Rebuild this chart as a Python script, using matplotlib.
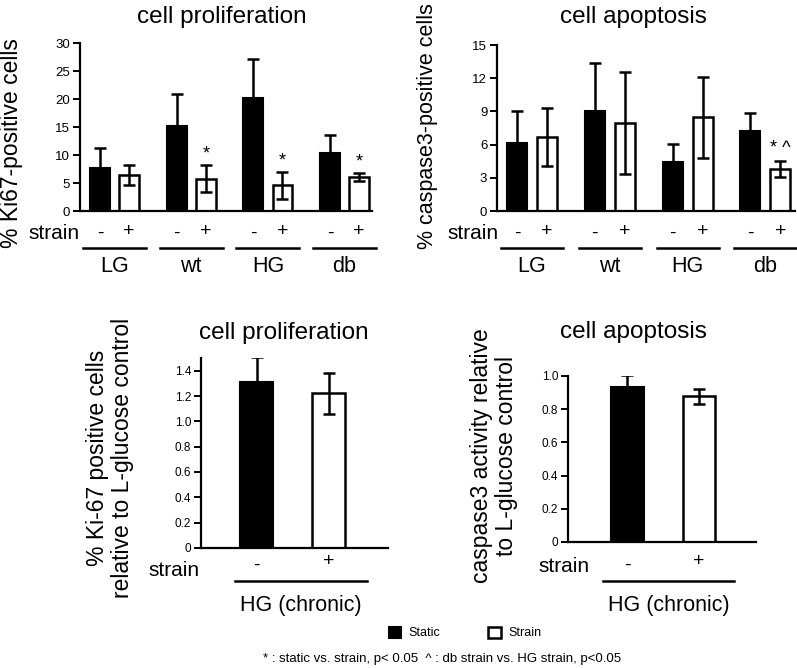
import numpy as np
import matplotlib
matplotlib.use("Agg")
from matplotlib import pyplot as plt
from matplotlib.transforms import blended_transform_factory

plt.rcParams['font.family'] = ['Liberation Sans', 'DejaVu Sans']

# data
groups = ["LG", "wt", "HG", "db"]
signs = ["-", "+"]

prolif_static = [7.7, 15.1, 20.1, 10.3]
prolif_static_err = [3.6, 5.8, 7.1, 3.3]
prolif_strain = [6.4, 5.8, 4.6, 6.1]
prolif_strain_err = [1.8, 2.4, 2.4, 0.7]
prolif_marks = ["", "*", "*", "*"]

apopt_static = [6.1, 9.05, 4.4, 7.2]
apopt_static_err = [2.9, 4.35, 1.65, 1.7]
apopt_strain = [6.7, 7.95, 8.45, 3.8]
apopt_strain_err = [2.6, 4.65, 3.7, 0.7]
apopt_marks = ["", "", "", "* ^"]

chronic_prolif = [1.31, 1.22]
chronic_prolif_err = [0.2, 0.165]
chronic_apopt = [0.935, 0.877]
chronic_apopt_err = [0.07, 0.046]

W, H = 797, 668
fig = plt.figure(figsize=(W / 100, H / 100), dpi=100)


def px_rect(x0, y0, x1, y1):
    return [x0 / W, 1 - y1 / H, (x1 - x0) / W, (y1 - y0) / H]


def fy(y):
    return 1 - y / H


def style_axes(ax, tsize):
    for s in ["top", "right"]:
        ax.spines[s].set_visible(False)
    ax.spines["left"].set_linewidth(1.6)
    ax.spines["bottom"].set_linewidth(1.6)
    ax.tick_params(axis="x", bottom=False, labelbottom=False)
    ax.tick_params(axis="y", direction="out", length=5, width=1.4,
                   labelsize=tsize, pad=2)


ekw = dict(elinewidth=1.8, capsize=4, capthick=1.8, ecolor="black")


def group_panel(ax, static, s_err, strain, t_err, marks, width, off, ylim, yticks,
                line_w, star_pad):
    x = np.arange(len(groups))
    b1 = ax.bar(x - off, static, width, color="black", edgecolor="black", linewidth=1.5,
                yerr=[np.zeros(len(static)), s_err], error_kw=ekw)
    b2 = ax.bar(x + off, strain, width, color="white", edgecolor="black", linewidth=1.8,
                yerr=t_err, error_kw=ekw)
    ax.set_ylim(*ylim)
    ax.set_yticks(yticks)
    style_axes(ax, 9.5)
    for i, m in enumerate(marks):
        if m:
            ax.text(x[i] + off, strain[i] + t_err[i] + star_pad, m, ha="center",
                    va="center", fontsize=13)
    tr = blended_transform_factory(ax.transData, fig.transFigure)
    for i, g in enumerate(groups):
        ax.text(x[i] - off, fy(233), signs[0], transform=tr, ha="center", va="center",
                fontsize=14)
        ax.text(x[i] + off, fy(231), signs[1], transform=tr, ha="center", va="center",
                fontsize=14)
        ax.plot([x[i] - line_w / 2, x[i] + line_w / 2], [fy(248), fy(248)], transform=tr,
                color="black", lw=1.8, clip_on=False)
        ax.text(x[i], fy(267), g, transform=tr, ha="center", va="center", fontsize=15.5)
    return b1, b2


def chronic_panel(ax, vals, errs, width, ylim, yticks, spine_top, line_x, sign_y):
    x = np.arange(2)
    ax.bar(x[0], vals[0], width, color="black", edgecolor="black", linewidth=1.5,
           yerr=[[0], [errs[0]]], error_kw=ekw)
    ax.bar(x[1], vals[1], width, color="white", edgecolor="black", linewidth=1.8,
           yerr=[[errs[1]], [errs[1]]], error_kw=ekw)
    ax.set_ylim(*ylim)
    ax.set_yticks(yticks)
    ax.set_yticklabels(["0"] + ["%.1f" % t for t in yticks[1:]])
    style_axes(ax, 8.5)
    ax.spines["left"].set_bounds(0, spine_top)
    tr = blended_transform_factory(ax.transData, fig.transFigure)
    ax.text(x[0], fy(sign_y[0]), signs[0], transform=tr, ha="center", va="center",
            fontsize=14)
    ax.text(x[1], fy(sign_y[1]), signs[1], transform=tr, ha="center", va="center",
            fontsize=14)
    ax.plot(line_x, [fy(581), fy(581)], transform=tr, color="black", lw=1.8,
            clip_on=False)
    ax.text(np.mean(line_x), fy(605), "HG (chronic)", transform=tr, ha="center",
            va="center", fontsize=15.5)


# panel A
axA = fig.add_axes(px_rect(80, 43, 372, 211))
bs, bt = group_panel(axA, prolif_static, prolif_static_err, prolif_strain, prolif_strain_err,
                     prolif_marks, 0.26, 0.19, (0, 30), range(0, 31, 5), 0.82, 2.0)
axA.set_xlim(-0.45, 3.357)
fig.text(222 / W, fy(17), "cell proliferation", ha="center", va="center", fontsize=17.5)
fig.text(12 / W, fy(248), "% Ki67-positive cells", rotation=90, ha="center",
         va="bottom", fontsize=16.5)
fig.text(80 / W, fy(233), "strain", ha="right", va="center", fontsize=15)

# panel B
axB = fig.add_axes(px_rect(497, 45, 795, 211))
group_panel(axB, apopt_static, apopt_static_err, apopt_strain, apopt_strain_err,
            apopt_marks, 0.257, 0.193, (0, 15), range(0, 16, 3), 0.8, 1.15)
axB.set_xlim(-0.45, 3.38)
fig.text(633 / W, fy(17), "cell apoptosis", ha="center", va="center", fontsize=17.5)
fig.text(427 / W, fy(249), "% caspase3-positive cells", rotation=90, ha="center",
         va="bottom", fontsize=15.5)
fig.text(499 / W, fy(233), "strain", ha="right", va="center", fontsize=15)

# panel C
axC = fig.add_axes(px_rect(201, 358, 388, 548))
chronic_panel(axC, chronic_prolif, chronic_prolif_err, 0.458, (0, 1.5),
              [0, 0.2, 0.4, 0.6, 0.8, 1.0, 1.2, 1.4], 1.5, [-0.30, 1.53], (565, 562))
axC.set_xlim(-0.771, 1.826)
fig.text(284 / W, fy(333), "cell proliferation", ha="center", va="center", fontsize=17.5)
fig.text(110 / W, fy(458), "% Ki-67 positive cells\nrelative to L-glucose control",
         rotation=90, ha="center", va="center", fontsize=16.5, linespacing=1.1)
fig.text(200 / W, fy(570), "strain", ha="right", va="center", fontsize=15)

# panel D
axD = fig.add_axes(px_rect(568, 376, 756, 542))
chronic_panel(axD, chronic_apopt, chronic_apopt_err, 0.448, (0, 1.0),
              [0, 0.2, 0.4, 0.6, 0.8, 1.0], 1.0, [-0.343, 1.49], (565, 562))
axD.set_xlim(-0.832, 1.797)
fig.text(633 / W, fy(332), "cell apoptosis", ha="center", va="center", fontsize=17.5)
fig.text(494 / W, fy(456), "caspase3 activity relative\nto L-glucose control",
         rotation=90, ha="center", va="center", fontsize=16.5, linespacing=1.1)
fig.text(590 / W, fy(567), "strain", ha="right", va="center", fontsize=15)

# legend and footnote
fig.legend([bs, bt], ["Static", "Strain"], loc="center", bbox_to_anchor=(465 / W, fy(633)),
           ncol=2, frameon=False, fontsize=9, handlelength=1.0, handleheight=1.0,
           handletextpad=0.6, columnspacing=3.8)
fig.text(263 / W, fy(659), "* : static vs. strain, p< 0.05  ^ : db strain vs. HG strain, p<0.05",
         ha="left", va="center", fontsize=9.5)

fig.savefig("out.png", dpi=100)
